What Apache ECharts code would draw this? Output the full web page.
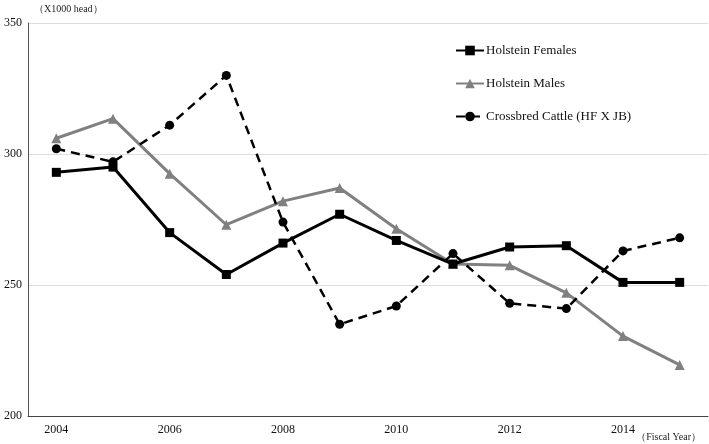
<!DOCTYPE html>
<html>
<head>
<meta charset="utf-8">
<style type="text/css">
html, body { margin: 0; padding: 0; background: #fff; }
</style>
<script src="https://cdn.jsdelivr.net/npm/echarts@6/dist/echarts.min.js"></script>
</head>
<body>
<div id="chart" style="width:709px; height:444px;"></div>
<script type="text/javascript">
var years = ['2004', '2005', '2006', '2007', '2008', '2009', '2010', '2011', '2012', '2013', '2014', '2015'];
var holsteinFemales = [293, 295, 270, 254, 266, 277, 267, 258, 264.5, 265, 251, 251];
var holsteinMales = [306, 313.5, 292.5, 273, 282, 287, 271.5, 258, 257.5, 247, 230.5, 219.5];
var crossbred = [302, 297, 311, 330, 274, 235, 242, 262, 243, 241, 263, 268];

var font = '"Liberation Serif", "DejaVu Serif", serif';

var myChart = echarts.init(document.getElementById('chart'));
var option = {
    animation: false,
    textStyle: { fontFamily: font },
    grid: { left: 28, right: 1, top: 23, bottom: 28 },
    legend: {
        orient: 'vertical',
        left: 450,
        top: 39,
        itemGap: 20,
        itemWidth: 28,
        itemHeight: 12,
        textStyle: { fontFamily: font, fontSize: 13, color: '#111', padding: [0, 0, 0, -3] },
        data: ['Holstein Females', 'Holstein Males', 'Crossbred Cattle (HF X JB)']
    },
    xAxis: {
        type: 'category',
        data: years,
        boundaryGap: true,
        axisLine: { lineStyle: { color: '#444', width: 1 } },
        axisTick: { show: false },
        axisLabel: { interval: 1, color: '#111', fontFamily: font, fontSize: 12, margin: 8 }
    },
    yAxis: {
        type: 'value',
        min: 200,
        max: 350,
        interval: 50,
        axisLine: { show: true, lineStyle: { color: '#555', width: 1 } },
        axisTick: { show: false },
        axisLabel: { color: '#111', fontFamily: font, fontSize: 12, margin: 6 },
        splitLine: { lineStyle: { color: '#ddd', width: 1 } }
    },
    graphic: [
        { type: 'text', left: 34, top: 4, style: { text: '（X1000 head）', font: '10px ' + font, fill: '#222' } },
        { type: 'text', right: 8, top: 432, style: { text: '（Fiscal Year）', font: '10px ' + font, fill: '#222' } }
    ],
    series: [
        {
            name: 'Holstein Females',
            type: 'line',
            data: holsteinFemales,
            symbol: 'rect',
            symbolSize: 9,
            itemStyle: { color: '#000' },
            lineStyle: { color: '#000', width: 3 },
            z: 3
        },
        {
            name: 'Holstein Males',
            type: 'line',
            data: holsteinMales,
            symbol: 'triangle',
            symbolSize: 10,
            itemStyle: { color: '#808080' },
            lineStyle: { color: '#808080', width: 3 },
            z: 2
        },
        {
            name: 'Crossbred Cattle (HF X JB)',
            type: 'line',
            data: crossbred,
            symbol: 'circle',
            symbolSize: 9,
            itemStyle: { color: '#000' },
            lineStyle: { color: '#000', width: 2.5, type: [9, 6] },
            z: 4
        }
    ]
};
myChart.setOption(option);
</script>
</body>
</html>
